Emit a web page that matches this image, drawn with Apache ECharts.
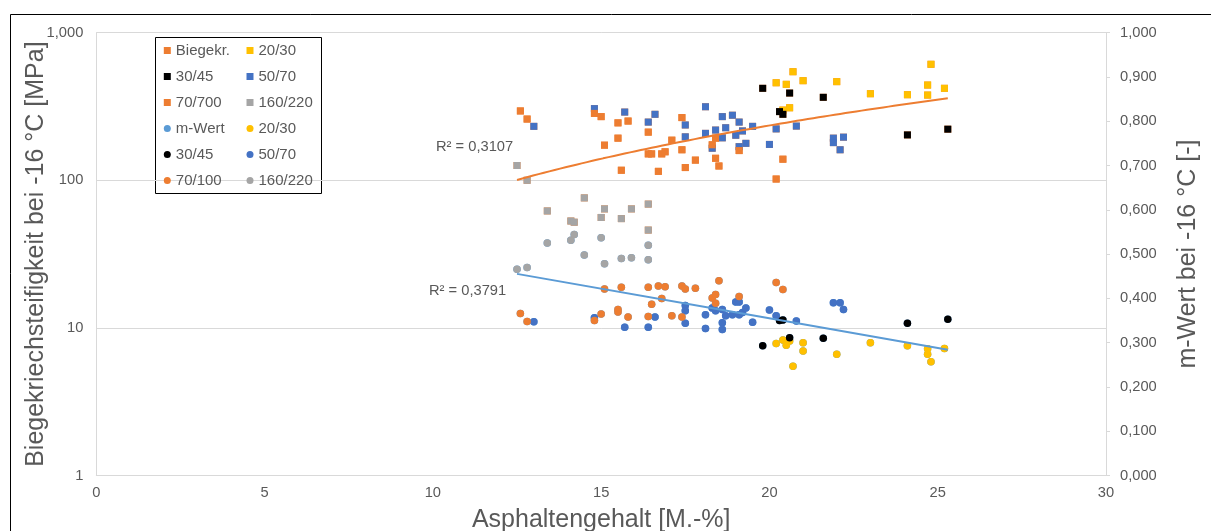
<!DOCTYPE html>
<html>
<head>
<meta charset="utf-8">
<script src="https://cdn.jsdelivr.net/npm/echarts@6/dist/echarts.min.js"></script>
<style>
  html, body { margin: 0; padding: 0; background: #fff; }
  #chart { width: 1211px; height: 531px; }
</style>
</head>
<body>
<div id="chart"></div>
<script>
// Biegekriechsteifigkeit bei -16 °C [MPa] je Bitumensorte: [Asphaltengehalt M.-%, Wert]
const stiff_2030 = [[20.2,458],[20.5,447],[20.7,544],[21.0,473],[22.0,466],[23.0,386],[24.1,380],[24.7,442],[24.7,378],[24.8,611],[25.2,420],[20.6,310],[20.4,299]];
const stiff_3045 = [[19.8,420],[20.3,292],[20.4,280],[20.6,390],[21.6,365],[24.1,203],[25.3,222]];
const stiff_5070 = [[13.0,232],[14.8,306],[15.7,290],[16.4,248],[16.6,280],[17.5,237],[17.5,197],[18.1,315],[18.1,208],[18.4,219],[18.3,165],[18.6,270],[18.6,194],[18.7,227],[18.9,276],[19.1,248],[19.0,202],[19.2,216],[19.1,169],[19.3,178],[19.5,232],[20.0,175],[20.2,223],[20.8,233],[21.9,193],[21.9,180],[22.2,196],[22.1,161]];
const stiff_70700 = [[12.6,295],[12.8,260],[14.8,284],[15.0,270],[15.1,173],[15.5,245],[15.8,252],[15.5,193],[15.6,117],[16.4,212],[16.4,151],[16.5,151],[16.8,151],[16.9,156],[16.7,115],[17.1,187],[17.4,266],[17.4,161],[17.5,122],[17.8,137],[18.4,193],[18.3,174],[18.4,141],[18.5,125],[19.1,159],[20.4,139],[20.2,102]];
const stiff_160220 = [[12.5,126],[12.8,100],[13.4,62],[14.1,53],[14.2,52],[14.5,76],[15.0,56],[15.1,64],[15.6,55],[15.9,64],[16.4,69],[16.4,46]];

// m-Wert bei -16 °C [-] je Bitumensorte: [Asphaltengehalt M.-%, Wert]
const m_2030 = [[20.2,0.298],[20.4,0.306],[20.5,0.294],[20.6,0.304],[20.7,0.247],[21.0,0.300],[21.0,0.281],[22.0,0.274],[23.0,0.300],[24.1,0.293],[24.7,0.286],[24.7,0.274],[24.8,0.257],[25.2,0.287]];
const m_3045 = [[19.8,0.293],[20.3,0.350],[20.4,0.351],[20.6,0.311],[21.6,0.310],[24.1,0.344],[25.3,0.353]];
const m_5070 = [[13.0,0.347],[14.8,0.356],[15.7,0.335],[16.4,0.335],[16.6,0.358],[17.5,0.384],[17.5,0.372],[17.5,0.344],[18.1,0.363],[18.1,0.332],[18.3,0.378],[18.4,0.372],[18.6,0.375],[18.6,0.345],[18.6,0.330],[18.7,0.361],[18.9,0.363],[19.0,0.392],[19.1,0.392],[19.1,0.363],[19.2,0.368],[19.3,0.378],[19.5,0.346],[20.0,0.374],[20.2,0.361],[20.8,0.349],[21.9,0.390],[22.1,0.390],[22.2,0.375]];
const m_70100 = [[12.6,0.366],[12.8,0.348],[14.8,0.350],[15.0,0.365],[15.1,0.421],[15.5,0.375],[15.5,0.369],[15.6,0.425],[15.8,0.358],[16.4,0.425],[16.5,0.387],[16.4,0.359],[16.7,0.428],[16.9,0.426],[16.8,0.400],[17.1,0.361],[17.4,0.428],[17.5,0.421],[17.4,0.358],[17.8,0.423],[18.3,0.401],[18.4,0.409],[18.4,0.389],[18.5,0.440],[19.1,0.404],[20.2,0.436],[20.4,0.420]];
const m_160220 = [[12.5,0.466],[12.8,0.470],[13.4,0.525],[14.1,0.531],[14.2,0.544],[14.5,0.498],[15.0,0.537],[15.1,0.478],[15.6,0.490],[15.9,0.492],[16.4,0.520],[16.4,0.487]];

// Achsenbeschriftung
const xTicks = { min: 0, max: 30, step: 5 };
const yLeftRange = { min: 1, max: 1000 };
const yRightRange = { min: 0, max: 1, step: 0.1 };
const rSquaredStiff = '0,3107';
const rSquaredM = '0,3791';

const FONT = '"Liberation Sans", Arial, sans-serif';
const TXT = '#595959';
const AXIS = '#d9d9d9';
const COL = { orange: '#ED7D31', yellow: '#FFC000', black: '#000000', blue: '#4472C4', grey: '#A5A5A5', lightblue: '#5B9BD5' };

// Gesamtreihen (alle Sorten) für die Trendlinien
const stiffAll = [].concat(stiff_2030, stiff_3045, stiff_5070, stiff_70700, stiff_160220);
const mAll = [].concat(m_2030, m_3045, m_5070, m_70100, m_160220);

// Potenz-Trend y = a·x^b (Kleinste Quadrate in ln-ln)
function powerFit(pts) {
  let n = pts.length, sx = 0, sy = 0, sxx = 0, sxy = 0;
  pts.forEach(([x, y]) => { const lx = Math.log(x), ly = Math.log(y); sx += lx; sy += ly; sxx += lx * lx; sxy += lx * ly; });
  const b = (n * sxy - sx * sy) / (n * sxx - sx * sx);
  const a = Math.exp((sy - b * sx) / n);
  return x => a * Math.pow(x, b);
}
// Linearer Trend y = k·x + d
function linearFit(pts) {
  let n = pts.length, sx = 0, sy = 0, sxx = 0, sxy = 0;
  pts.forEach(([x, y]) => { sx += x; sy += y; sxx += x * x; sxy += x * y; });
  const k = (n * sxy - sx * sy) / (n * sxx - sx * sx);
  const d = (sy - k * sx) / n;
  return x => k * x + d;
}
function sampleTrend(pts, f, steps) {
  const xs = pts.map(p => p[0]);
  const x0 = Math.min.apply(null, xs), x1 = Math.max.apply(null, xs);
  const out = [];
  for (let i = 0; i <= steps; i++) { const x = x0 + (x1 - x0) * i / steps; out.push([x, f(x)]); }
  return out;
}
const stiffTrend = sampleTrend(stiffAll, powerFit(stiffAll), 80);
const mTrend = sampleTrend(mAll, linearFit(mAll), 2);

// Legendentexte
const labels = {
  'k': 'Biegekr.', 'k2030': '20/30', 'k3045': '30/45', 'k5070': '50/70', 'k70700': '70/700', 'k160220': '160/220',
  'm': 'm-Wert', 'm2030': '20/30', 'm3045': '30/45', 'm5070': '50/70', 'm70100': '70/100', 'm160220': '160/220'
};

function scatter(name, data, color, symbol, yAxisIndex) {
  return {
    name, type: 'scatter', data, yAxisIndex,
    symbol, symbolSize: symbol === 'rect' ? 7 : 7.5,
    itemStyle: { color, opacity: 1 },
    emphasis: { disabled: true }
  };
}

const chart = echarts.init(document.getElementById('chart'), null, { renderer: 'canvas' });

const legendBase = {
  orient: 'vertical', top: 43, padding: 0, itemGap: 11,
  itemWidth: 7, itemHeight: 7, itemTextGap: 4,
  textStyle: { color: TXT, fontSize: 15, fontFamily: FONT, lineHeight: 15 },
  formatter: n => labels[n], selectedMode: false
};

chart.setOption({
  animation: false,
  backgroundColor: '#fff',
  textStyle: { fontFamily: FONT },
  grid: { left: 96.3, right: 105, top: 32.7, bottom: 55.5, outerBoundsMode: 'none', containLabel: false },
  legend: [
    Object.assign({}, legendBase, { left: 163.8, data: ['k', 'k3045', 'k70700', 'm', 'm3045', 'm70100'] }),
    Object.assign({}, legendBase, { left: 246.5, data: ['k2030', 'k5070', 'k160220', 'm2030', 'm5070', 'm160220'] })
  ],
  xAxis: {
    type: 'value', min: xTicks.min, max: xTicks.max, interval: xTicks.step,
    name: 'Asphaltengehalt [M.-%]', nameLocation: 'middle', nameGap: 32,
    nameTextStyle: { color: TXT, fontSize: 25, fontFamily: FONT },
    axisLine: { onZero: false, lineStyle: { color: AXIS, width: 1 } },
    axisTick: { show: false },
    splitLine: { show: false },
    axisLabel: { color: TXT, fontSize: 14.7, margin: 10, fontFamily: FONT }
  },
  yAxis: [
    {
      type: 'log', logBase: 10, min: yLeftRange.min, max: yLeftRange.max,
      name: 'Biegekriechsteifigkeit bei -16 °C [MPa]', nameLocation: 'middle', nameGap: 48, nameRotate: 90,
      nameMoveOverlap: false,
      nameTextStyle: { color: TXT, fontSize: 25, fontFamily: FONT },
      axisLine: { show: true, lineStyle: { color: AXIS, width: 1 } },
      axisTick: { show: false },
      splitLine: { show: true, lineStyle: { color: AXIS, width: 1 } },
      axisLabel: { color: TXT, fontSize: 14.7, margin: 13, fontFamily: FONT }
    },
    {
      type: 'value', min: yRightRange.min, max: yRightRange.max, interval: yRightRange.step,
      position: 'right',
      name: 'm-Wert bei -16 °C [-]', nameLocation: 'middle', nameGap: 70, nameRotate: 90,
      nameTextStyle: { color: TXT, fontSize: 25, fontFamily: FONT },
      axisLine: { show: true, lineStyle: { color: AXIS, width: 1 } },
      axisTick: { show: true, length: 4, lineStyle: { color: AXIS } },
      splitLine: { show: false },
      axisLabel: { color: TXT, fontSize: 14.7, margin: 14, fontFamily: FONT,
        formatter: v => v.toFixed(3).replace('.', ',') }
    }
  ],
  graphic: [
    { type: 'rect', left: 8, top: 12, shape: { width: 1215, height: 530 }, style: { fill: null, stroke: '#000', lineWidth: 1 }, silent: true, z: 100 },
    { type: 'rect', left: 155, top: 37, shape: { width: 166, height: 156 }, style: { fill: '#fff', stroke: '#000', lineWidth: 1 }, silent: true, z: 0 },
    { type: 'text', left: 436, top: 139, style: { text: 'R² = ' + rSquaredStiff, fill: TXT, font: '14.7px ' + FONT }, silent: true, z: 50 },
    { type: 'text', left: 429, top: 283, style: { text: 'R² = ' + rSquaredM, fill: TXT, font: '14.7px ' + FONT }, silent: true, z: 50 }
  ],
  series: [
    scatter('k', stiffAll, COL.orange, 'rect', 0),
    scatter('k2030', stiff_2030, COL.yellow, 'rect', 0),
    scatter('k3045', stiff_3045, COL.black, 'rect', 0),
    scatter('k5070', stiff_5070, COL.blue, 'rect', 0),
    scatter('k70700', stiff_70700, COL.orange, 'rect', 0),
    scatter('k160220', stiff_160220, COL.grey, 'rect', 0),
    scatter('m', mAll, COL.lightblue, 'circle', 1),
    scatter('m2030', m_2030, COL.yellow, 'circle', 1),
    scatter('m3045', m_3045, COL.black, 'circle', 1),
    scatter('m5070', m_5070, COL.blue, 'circle', 1),
    scatter('m70100', m_70100, COL.orange, 'circle', 1),
    scatter('m160220', m_160220, COL.grey, 'circle', 1),
    {
      name: 'trendK', type: 'line', data: stiffTrend, yAxisIndex: 0, smooth: false,
      showSymbol: false, symbol: 'none', silent: true, z: 3,
      lineStyle: { color: COL.orange, width: 2 }
    },
    {
      name: 'trendM', type: 'line', data: mTrend, yAxisIndex: 1,
      showSymbol: false, symbol: 'none', silent: true, z: 3,
      lineStyle: { color: COL.lightblue, width: 2 }
    }
  ]
});
</script>
</body>
</html>
